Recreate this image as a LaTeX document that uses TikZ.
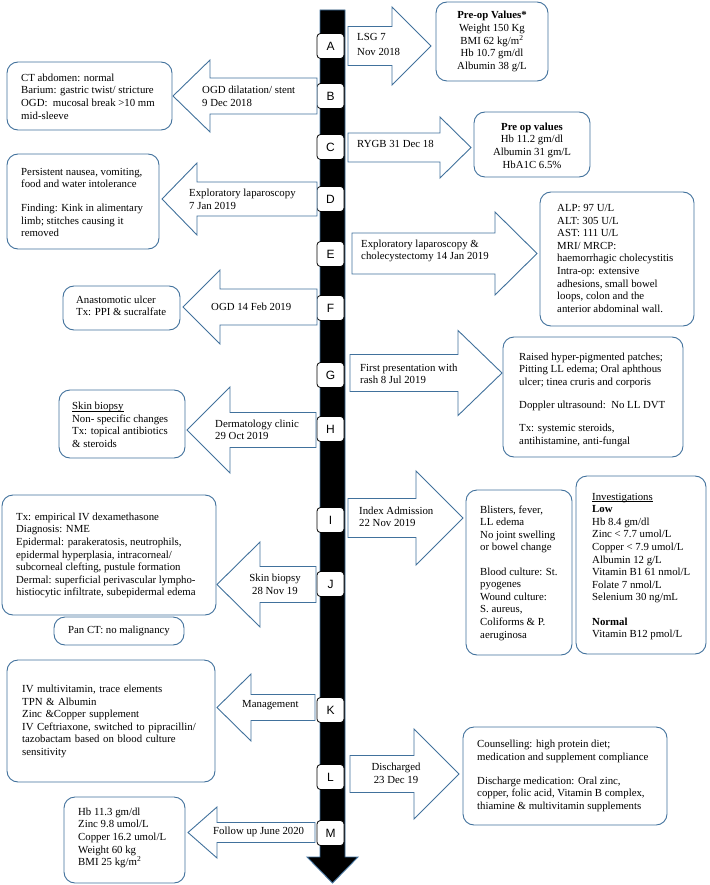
\documentclass[tikz,border=0pt]{standalone}
\usepackage{fontspec}
\setmainfont{Liberation Serif}
\newfontfamily\lettfont{Liberation Sans}
\definecolor{mblue}{RGB}{65,113,156}
\newcommand\myul[1]{\setbox0\hbox{#1}\rlap{\rule[-1.4pt]{\wd0}{0.5pt}}#1}
\tikzset{
 ibox/.style={draw=mblue, line width=0.9pt, rounded corners=11pt, fill=white, inner sep=0pt},
 arrowshape/.style={draw=mblue, line width=0.9pt, fill=white, line join=miter},
 txt/.style={inner sep=0pt, align=left, anchor=west, font=\fontsize{10.8}{12.6}\selectfont},
 ctxt/.style={inner sep=0pt, align=center, anchor=center, font=\fontsize{10.8}{12.6}\selectfont},
 letter/.style={draw=black, fill=white, rounded corners=3.5pt, minimum width=27pt, minimum height=25pt, inner sep=0pt, line width=0.8pt, font=\lettfont\fontsize{12}{14}\selectfont},
 bar/.style={fill=black, draw=mblue, line width=0.9pt, line join=miter}
}
\newcommand\blockarrow[6]{% xl, xb, xt, yc, shaft half, head half
 \draw[arrowshape] (#1,#4-#5) -- (#2,#4-#5) -- (#2,#4-#6) -- (#3,#4) -- (#2,#4+#6) -- (#2,#4+#5) -- (#1,#4+#5) -- cycle;}
\newcommand\infobox[5]{% name, x1, y1, x2, y2
 \node[ibox, minimum width=#4-#2, minimum height=#5-#3] (#1) at ({(#2+#4)/2},{(#3+#5)/2}) {};}
\begin{document}
\begin{tikzpicture}[x=1pt,y=-1pt]
\useasboundingbox (0,0) rectangle (709,885);
% timeline bar
\draw[bar] (320,10) -- (345,10) -- (345,857) -- (358,857) -- (332.5,883) -- (307,857) -- (320,857) -- cycle;
\coordinate (bartop) at (332.5,10);
% letters
\foreach \l/\y in {A/46,B/96,C/147,D/199,E/254,F/308,G/375,H/429,I/520,J/584,K/710,L/777,M/833}
 \node[letter] (L\l) at (330.5,\y) {\l};

% A
\blockarrow{348}{392}{431}{46}{19.5}{39}
\node[txt] (Alab) at (357,44.5) {LSG 7\\[1.8pt]Nov 2018};
\infobox{Abox}{436}{2}{548}{81}
\node[ctxt] (Atxt) at (Abox.center) {\textbf{Pre-op Values*}\\Weight 150 Kg\\BMI 62 kg/m\textsuperscript{2}\\Hb 10.7 gm/dl\\Albumin 38 g/L};

% B
\blockarrow{317}{210}{173}{96}{18}{36}
\node[txt] (Blab) at (202,96.5) {OGD dilatation/ stent\\9 Dec 2018};
\infobox{Bbox}{7}{62}{172}{130}
\node[txt] (Btxt) at (21,96.5) {CT abdomen: normal\\Barium: gastric twist/ stricture\\OGD:\ \ mucosal break >10 mm\\mid-sleeve};

% C
\blockarrow{348}{440}{471}{147.5}{14.5}{30.5}
\node[txt] (Clab) at (357,144) {RYGB 31 Dec 18};
\infobox{Cbox}{474}{112}{590}{177}
\node[ctxt] (Ctxt) at (532,145.5) {\textbf{Pre op values}\\Hb 11.2 gm/dl\\Albumin 31 gm/L\\HbA1C 6.5\%};

% D
\blockarrow{317}{197}{162}{199}{17}{36}
\node[txt] (Dlab) at (189,199.5) {Exploratory laparoscopy\\7 Jan 2019};
\infobox{Dbox}{7}{154}{159}{249}
\node[txt] (Dtxt) at (21,202.5) {Persistent nausea, vomiting,\\food and water intolerance\\[11.5pt]Finding: Kink in alimentary\\limb; stitches causing it\\removed};

% E
\blockarrow{352}{495}{537}{253.5}{20.5}{41.5}
\node[txt] (Elab) at (361,251) {Exploratory laparoscopy \&\\cholecystectomy 14 Jan 2019};
\infobox{Ebox}{540}{192}{694}{326}
\node[txt] (Etxt) at (557,258.5) {ALP: 97 U/L\\ALT: 305 U/L\\AST: 111 U/L\\MRI/ MRCP:\\haemorrhagic cholecystitis\\Intra-op: extensive\\adhesions, small bowel\\loops, colon and the\\anterior abdominal wall.};

% F
\blockarrow{317}{220}{183}{307}{18}{37}
\node[txt] (Flab) at (211,307) {OGD 14 Feb 2019};
\infobox{Fbox}{63}{286}{180}{330}
\node[txt] (Ftxt) at (76,306) {Anastomotic ulcer\\Tx: PPI \& sucralfate};

% G
\blockarrow{350}{458}{502}{373}{18.5}{42.5}
\node[txt] (Glab) at (360,374) {First presentation with\\rash 8 Jul 2019};
\infobox{Gbox}{503}{337}{683}{457}
\node[txt] (Gtxt) at (519,399.5) {Raised hyper-pigmented patches;\\Pitting LL edema; Oral aphthous\\ulcer; tinea cruris and corporis\\[10.5pt]Doppler ultrasound:\ \ No LL DVT\\[10.5pt]Tx: systemic steroids,\\antihistamine, anti-fungal};

% H
\blockarrow{316}{230}{187}{430}{17.5}{43}
\node[txt] (Hlab) at (215,430) {Dermatology clinic\\29 Oct 2019};
\infobox{Hbox}{59}{390}{185}{458}
\node[txt] (Htxt) at (72,425) {\myul{Skin biopsy}\\Non- specific changes\\Tx: topical antibiotics\\\& steroids};

% I
\blockarrow{348}{416}{463}{518}{19.5}{47}
\node[txt] (Ilab) at (359,517) {Index Admission\\22 Nov 2019};
\infobox{Ibox}{466}{490}{572}{655}
\node[txt] (Itxt) at (480,573) {Blisters, fever,\\LL edema\\No joint swelling\\or bowel change\\[11.5pt]Blood culture: St.\\pyogenes\\Wound culture:\\S. aureus,\\Coliforms \& P.\\aeruginosa};
\infobox{Invbox}{576}{476}{706}{654}
\node[txt] (Invtxt) at (592,566.5) {\myul{Investigations}\\\textbf{Low}\\Hb 8.4 gm/dl\\Zinc < 7.7 umol/L\\Copper < 7.9 umol/L\\Albumin 12 g/L\\Vitamin B1 61 nmol/L\\Folate 7 nmol/L\\Selenium 30 ng/mL\\[11.5pt]\textbf{Normal}\\Vitamin B12 pmol/L};

% J
\blockarrow{316}{260}{217}{584.5}{18}{42.5}
\node[ctxt] (Jlab) at (275,584) {Skin biopsy\\28 Nov 19};
\infobox{Jbox}{2}{495}{216}{615}
\node[txt] (Jtxt) at (16,555.5) {Tx: empirical IV dexamethasone\\Diagnosis: NME\\Epidermal: parakeratosis, neutrophils,\\epidermal hyperplasia, intracorneal/\\subcorneal clefting, pustule formation\\Dermal: superficial perivascular lympho-\\histiocytic infiltrate, subepidermal edema};
\infobox{CTbox}{54}{617}{184}{645}
\node[ctxt] (CTtxt) at (CTbox.center) {Pan CT: no malignancy};

% K
\blockarrow{315}{251}{217}{707.5}{13}{33.5}
\node[txt] (Klab) at (242,705) {Management};
\infobox{Kbox}{7}{660}{215}{782}
\node[txt, text width=177pt] (Ktxt) at (22,721.5) {IV multivitamin, trace elements\\TPN \& Albumin\\Zinc \&Copper supplement\\\makebox[\linewidth][s]{IV Ceftriaxone, switched to pipracillin/}\\\makebox[\linewidth][s]{tazobactam based on blood culture}\\sensitivity};

% L
\blockarrow{350}{414}{459}{774}{18.5}{45}
\node[ctxt] (Llab) at (396,773) {Discharged\\23 Dec 19};
\infobox{Lbox}{463}{727}{667}{825}
\node[txt] (Ltxt) at (477,776) {Counselling: high protein diet;\\medication and supplement compliance\\[11.5pt]Discharge medication: Oral zinc,\\copper, folic acid, Vitamin B complex,\\thiamine \& multivitamin supplements};

% M
\blockarrow{315}{217}{188}{832.5}{10}{25.5}
\node[txt] (Mlab) at (213,832) {Follow up June 2020};
\infobox{Mbox}{64}{797}{185}{883}
\node[txt] (Mtxt) at (78,838) {Hb 11.3 gm/dl\\Zinc 9.8 umol/L\\Copper 16.2 umol/L\\Weight 60 kg\\BMI 25 kg/m\textsuperscript{2}};
\end{tikzpicture}
\end{document}
